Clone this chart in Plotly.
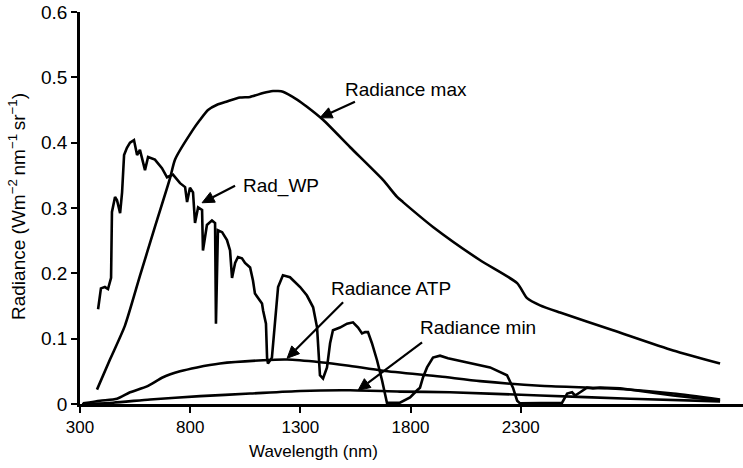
import math
import plotly.graph_objects as go

# ---- data (wavelength in nm as labelled on the axis, radiance in W m^-2 nm^-1 sr^-1) ----
max_wl = [377, 436, 504, 572, 640, 709, 731, 813, 845, 881, 922, 967, 1026, 1072, 1131, 1176,
          1199, 1221, 1285, 1330, 1403, 1526, 1675, 1739, 1766, 1902, 2116, 2284, 2329, 2388,
          2479, 2719, 2992, 3205]
max_rad = [0.022, 0.068, 0.120, 0.196, 0.271, 0.346, 0.374, 0.420, 0.435, 0.450, 0.458, 0.463,
           0.469, 0.470, 0.476, 0.479, 0.479, 0.478, 0.466, 0.455, 0.435, 0.393, 0.343, 0.317,
           0.309, 0.271, 0.220, 0.185, 0.162, 0.151, 0.140, 0.113, 0.082, 0.062]

wp_wl = [382, 395, 413, 427, 441, 445, 459, 468, 482, 491, 500, 513, 527, 545, 559, 572, 595,
         609, 640, 672, 695, 722, 754, 777, 786, 799, 813, 822, 836, 854, 858, 876, 899, 913,
         917, 926, 945, 967, 981, 990, 1004, 1017, 1035, 1049, 1072, 1085, 1094, 1108, 1126,
         1131, 1144, 1149, 1153, 1171, 1185, 1199, 1221, 1253, 1299, 1330, 1358, 1376, 1389,
         1403, 1421, 1435, 1448, 1480, 1512, 1539, 1562, 1580, 1594, 1607, 1625, 1648, 1671,
         1684, 1693, 1752, 1798, 1830, 1843, 1857, 1875, 1902, 1934, 1970, 2011, 2084, 2161,
         2238, 2265, 2284, 2297, 2488, 2511, 2533, 2547, 2570, 2601, 2628, 2660, 2751, 2874,
         2992, 3205]
wp_rad = [0.145, 0.177, 0.179, 0.176, 0.193, 0.294, 0.317, 0.312, 0.292, 0.324, 0.381, 0.392,
          0.400, 0.404, 0.381, 0.389, 0.358, 0.378, 0.374, 0.361, 0.347, 0.351, 0.338, 0.332,
          0.309, 0.331, 0.324, 0.277, 0.301, 0.297, 0.235, 0.274, 0.281, 0.277, 0.123, 0.266,
          0.263, 0.251, 0.235, 0.193, 0.216, 0.225, 0.223, 0.216, 0.209, 0.189, 0.169, 0.163,
          0.154, 0.143, 0.123, 0.071, 0.062, 0.071, 0.123, 0.179, 0.197, 0.194, 0.179, 0.166,
          0.148, 0.117, 0.044, 0.039, 0.056, 0.093, 0.113, 0.117, 0.123, 0.125, 0.117, 0.108,
          0.110, 0.110, 0.093, 0.067, 0.036, 0.016, 0.002, 0.002, 0.010, 0.021, 0.025, 0.041,
          0.056, 0.071, 0.074, 0.070, 0.067, 0.062, 0.056, 0.044, 0.025, 0.005, 0.001, 0.002,
          0.016, 0.018, 0.013, 0.018, 0.025, 0.024, 0.025, 0.024, 0.018, 0.013, 0.005]

atp_wl = [314, 391, 468, 527, 604, 677, 754, 831, 935, 1131, 1240, 1389, 1512, 1675, 1934,
          2116, 2388, 2692, 2992, 3205]
atp_rad = [0.001, 0.005, 0.008, 0.018, 0.027, 0.041, 0.050, 0.056, 0.062, 0.067, 0.068, 0.064,
           0.059, 0.051, 0.042, 0.035, 0.028, 0.024, 0.016, 0.007]

min_wl = [309, 450, 618, 845, 1072, 1299, 1526, 1752, 1979, 2388, 2797, 3205]
min_rad = [0.000, 0.002, 0.007, 0.012, 0.016, 0.020, 0.021, 0.019, 0.018, 0.013, 0.008, 0.004]

x_ticks = [300, 800, 1300, 1800, 2300]
y_ticks = [0, 0.1, 0.2, 0.3, 0.4, 0.5, 0.6]

labels = ["Radiance max", "Rad_WP", "Radiance ATP", "Radiance min"]
arrow_tips = [(1389, 0.438), (854, 0.308), (1240, 0.070), (1562, 0.021)]
label_pos = [(1494, 0.482), (1031, 0.334), (1430, 0.177), (1834, 0.117)]
# arrow tail offsets from the tip, in pixels (right, up)
arrow_tails = [(35, 16), (33, 17), (56, 56), (64, 48)]

FONT = "Liberation Sans, Arial, sans-serif"

W, H = 743, 468
L, R, T, B = 80, 0, 12, 64
X_RANGE = [300, 3309]
Y_RANGE = [0, 0.6]
XS = (X_RANGE[1] - X_RANGE[0]) / (W - L - R)   # data units per pixel
YS = (Y_RANGE[1] - Y_RANGE[0]) / (H - T - B)

fig = go.Figure()
for wl, rad, shape in [(max_wl, max_rad, "spline"), (wp_wl, wp_rad, "linear"),
                       (atp_wl, atp_rad, "spline"), (min_wl, min_rad, "spline")]:
    fig.add_trace(go.Scatter(x=wl, y=rad, mode="lines",
                             line=dict(color="black", width=2.6, shape=shape, smoothing=0.6),
                             showlegend=False, hoverinfo="skip"))

# arrows drawn as shapes: shaft + filled triangular head
shapes = []
HEAD_LEN, HEAD_HALF = 12, 5.5
for (tx, ty), (dx, dy) in zip(arrow_tips, arrow_tails):
    n = math.hypot(dx, dy)
    ux, uy = -dx / n, -dy / n            # unit vector tail -> tip (pixels, up positive)
    bx, by = -ux * HEAD_LEN, -uy * HEAD_LEN   # base centre offset from tip
    px, py = -uy * HEAD_HALF, ux * HEAD_HALF  # perpendicular
    to_d = lambda ox, oy: (tx + ox * XS, ty + oy * YS)
    tail = to_d(dx, dy)
    base = to_d(bx, by)
    c1 = to_d(bx + px, by + py)
    c2 = to_d(bx - px, by - py)
    shapes.append(dict(type="line", xref="x", yref="y", x0=tail[0], y0=tail[1],
                       x1=base[0], y1=base[1], line=dict(color="black", width=2.2)))
    shapes.append(dict(type="path", xref="x", yref="y",
                       path=f"M {tx},{ty} L {c1[0]},{c1[1]} L {c2[0]},{c2[1]} Z",
                       fillcolor="black", line=dict(color="black", width=1)))

annotations = []
for lab, (lx, ly) in zip(labels, label_pos):
    annotations.append(dict(x=lx, y=ly, xref="x", yref="y", text=lab, showarrow=False,
                            xanchor="left", yanchor="middle",
                            font=dict(family=FONT, size=19, color="black")))
# axis titles placed by pixel position (converted to paper coordinates)
annotations.append(dict(x=(313 - L) / (W - L - R), y=(H - B - 452) / (H - T - B),
                        xref="paper", yref="paper", text="Wavelength (nm)",
                        showarrow=False, xanchor="center", yanchor="middle",
                        font=dict(family=FONT, size=17, color="black")))
annotations.append(dict(x=(17 - L) / (W - L - R), y=(H - B - 207) / (H - T - B),
                        xref="paper", yref="paper",
                        text="Radiance (Wm<sup>−2 </sup>nm<sup>−1 </sup>sr<sup>−1</sup>)",
                        textangle=-90, showarrow=False, xanchor="center", yanchor="middle",
                        font=dict(family=FONT, size=19, color="black")))

fig.update_layout(
    width=W, height=H, margin=dict(l=L, r=R, t=T, b=B),
    plot_bgcolor="white", paper_bgcolor="white",
    annotations=annotations, shapes=shapes,
    xaxis=dict(range=X_RANGE, tickvals=x_ticks, ticks="outside", ticklen=6, tickwidth=2,
               tickcolor="black", showline=True, linecolor="black", linewidth=2.5,
               showgrid=False, zeroline=False,
               tickfont=dict(family=FONT, size=17, color="black")),
    yaxis=dict(range=Y_RANGE, tickvals=y_ticks, ticks="outside", ticklen=6, tickwidth=2,
               tickcolor="black", showline=True, linecolor="black", linewidth=2.5,
               showgrid=False, zeroline=False,
               tickfont=dict(family=FONT, size=19, color="black")),
)
fig.write_html("out.html")
